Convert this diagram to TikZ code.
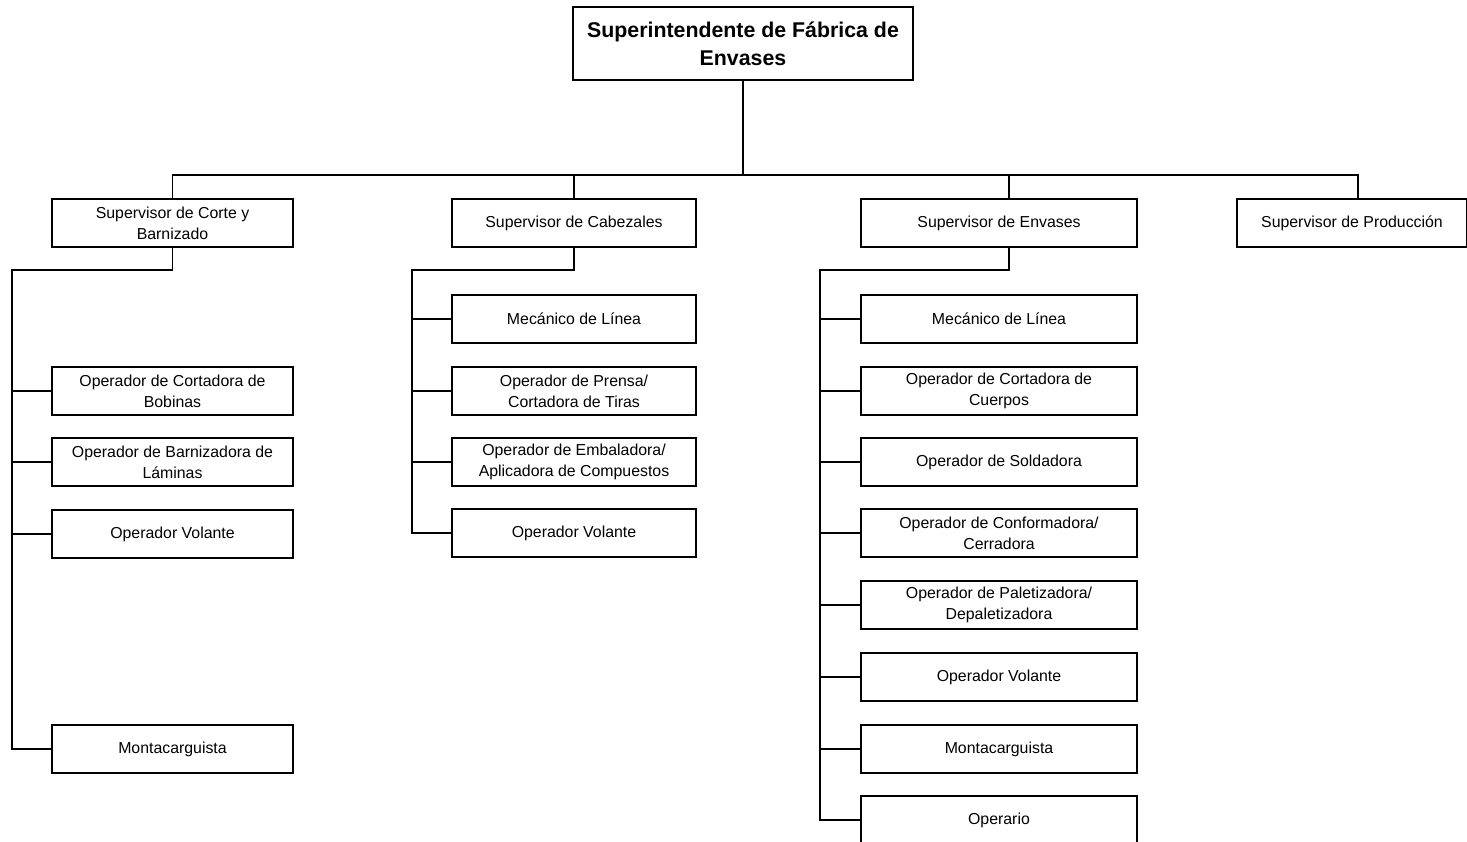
\documentclass[tikz,border=0pt]{standalone}
\usepackage{fontspec}
\setmainfont{Liberation Sans}
\usetikzlibrary{positioning}

\tikzset{
	puesto/.style = {draw, line width=1.2pt, minimum height=36pt, inner sep=0pt, align=center,
		font=\fontsize{11.9}{15.75}\selectfont},
	colA/.style = {puesto, minimum width=180.75pt},
	colB/.style = {puesto, minimum width=183pt},
	colC/.style = {puesto, minimum width=207pt},
	linea/.style = {line width=1.2pt}
}

\begin{document}
\begin{tikzpicture}[x=0.75pt, y=-0.75pt]
	\useasboundingbox (0,0) rectangle (1467,842);
	% jefe
	\node[puesto, minimum width=255pt, minimum height=54.75pt,
		font=\bfseries\fontsize{16}{21}\selectfont] (jefe) at (743,43.5)
		{Superintendente de Fábrica de\\Envases};
	% supervisores
	\node[colA] (supA) at (172.5,223) {Supervisor de Corte y\\Barnizado};
	\node[colB] (supB) at (574,223) {Supervisor de Cabezales};
	\node[colC] (supC) at (999,223) {Supervisor de Envases};
	\node[puesto, minimum width=172.5pt] (supD) at (1352,223) {Supervisor de Producción};
	% corte y barnizado
	\node[colA] (a1) at (172.5,391) {Operador de Cortadora de\\Bobinas};
	\node[colA] (a2) at (172.5,462) {Operador de Barnizadora de\\Láminas};
	\node[colA] (a3) at (172.5,534) {Operador Volante};
	\node[colA] (a4) at (172.5,749) {Montacarguista};
	% cabezales
	\node[colB] (b1) at (574,319) {Mecánico de Línea};
	\node[colB] (b2) at (574,391) {Operador de Prensa/\\Cortadora de Tiras};
	\node[colB] (b3) at (574,462) {Operador de Embaladora/\\Aplicadora de Compuestos};
	\node[colB] (b4) at (574,533) {Operador Volante};
	% envases
	\node[colC] (c1) at (999,319) {Mecánico de Línea};
	\node[colC] (c2) at (999,391) {Operador de Cortadora de\\Cuerpos};
	\node[colC] (c3) at (999,462) {Operador de Soldadora};
	\node[colC] (c4) at (999,533) {Operador de Conformadora/\\Cerradora};
	\node[colC] (c5) at (999,605) {Operador de Paletizadora/\\Depaletizadora};
	\node[colC] (c6) at (999,677) {Operador Volante};
	\node[colC] (c7) at (999,749) {Montacarguista};
	\node[colC] (c8) at (999,820) {Operario};

	\coordinate (bus) at (741,175);
	\coordinate (ramaA) at (12,270);
	\coordinate (ramaB) at (412,270);
	\coordinate (ramaC) at (820,270);
	% los tallos de envases y produccion no van al centro
	\coordinate (ejeCn) at ([xshift=7.5pt]supC.north);
	\coordinate (ejeCs) at ([xshift=7.5pt]supC.south);
	\coordinate (ejeD) at ([xshift=4.5pt]supD.north);

	\begin{scope}[linea]
		\draw (jefe.south) -- (jefe.south |- bus);
		\draw (supA.north) |- (bus) -| (ejeD);
		\draw (supB.north) -- (supB.north |- bus);
		\draw (ejeCn) -- (ejeCn |- bus);
		\draw (supA.south) -- (supA.south |- ramaA) -- (ramaA) -- (ramaA |- a4.west) -- (a4.west);
		\draw (supB.south) -- (supB.south |- ramaB) -- (ramaB) -- (ramaB |- b4.west) -- (b4.west);
		\draw (ejeCs) -- (ejeCs |- ramaC) -- (ramaC) -- (ramaC |- c8.west) -- (c8.west);
		\foreach \n in {a1,a2,a3}
			\draw (ramaA |- \n.west) -- (\n.west);
		\foreach \n in {b1,b2,b3}
			\draw (ramaB |- \n.west) -- (\n.west);
		\foreach \n in {c1,c2,c3,c4,c5,c6,c7}
			\draw (ramaC |- \n.west) -- (\n.west);
	\end{scope}
\end{tikzpicture}
\end{document}
